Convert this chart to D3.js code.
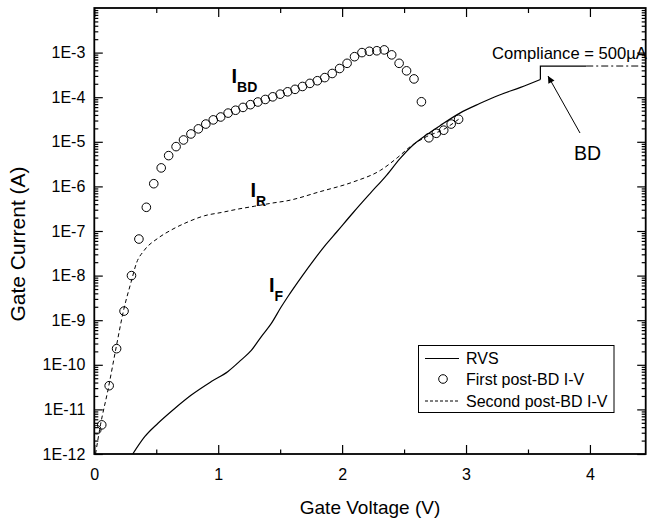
<!DOCTYPE html>
<html>
<head>
<meta charset="utf-8">
<script src="https://cdn.jsdelivr.net/npm/d3@7/dist/d3.min.js"></script>
<style>
  html, body { margin: 0; padding: 0; background: #fff; }
  svg { display: block; font-family: "Liberation Sans", Arial, sans-serif; }
</style>
</head>
<body>
<svg id="chart" width="651" height="528"></svg>
<script>
// ---------------- data ----------------
// RVS (solid) : gate voltage (V) and gate current (A); last two points = jump to compliance
const rvsV = [0.31, 0.407, 0.514, 0.649, 0.783, 0.944, 1.079, 1.186, 1.267, 1.348, 1.429, 1.509, 1.563, 1.68, 1.77, 1.87, 1.956, 2.09, 2.225, 2.36, 2.467, 2.575, 2.683, 2.79, 2.95, 3.11, 3.27, 3.44, 3.60, 3.60, 3.97];
const rvsI = [1e-12, 2.45e-12, 4.9e-12, 1.05e-11, 2.1e-11, 4.2e-11, 7.1e-11, 1.29e-10, 2.1e-10, 4.3e-10, 8.5e-10, 2.0e-9, 3.4e-9, 1.0e-8, 2.2e-8, 5.0e-8, 9.5e-8, 2.6e-7, 6.9e-7, 1.8e-6, 4.2e-6, 8.6e-6, 1.45e-5, 2.3e-5, 4.4e-5, 7.2e-5, 1.12e-4, 1.66e-4, 2.5e-4, 5e-4, 5e-4];
// compliance level continuation (dash-dot)
const complianceV = [3.97, 4.45];
const complianceI = [5e-4, 5e-4];
// First post-BD I-V (circles)
const firstV = [0.02, 0.06, 0.12, 0.18, 0.24, 0.30, 0.36, 0.42, 0.48, 0.54, 0.60, 0.66, 0.72, 0.78, 0.84, 0.90, 0.96, 1.02, 1.08, 1.14, 1.20, 1.26, 1.32, 1.38, 1.44, 1.50, 1.56, 1.62, 1.68, 1.74, 1.80, 1.86, 1.92, 1.98, 2.04, 2.10, 2.16, 2.22, 2.28, 2.34, 2.40, 2.46, 2.52, 2.58, 2.64, 2.70, 2.76, 2.82, 2.88, 2.94];
const firstI = [3.5e-12, 4.5e-12, 3.4e-11, 2.3e-10, 1.6e-9, 1.0e-8, 6.6e-8, 3.4e-7, 1.15e-6, 2.6e-6, 4.9e-6, 7.8e-6, 1.1e-5, 1.5e-5, 1.95e-5, 2.5e-5, 3.1e-5, 3.6e-5, 4.4e-5, 5.1e-5, 5.9e-5, 6.8e-5, 7.8e-5, 8.9e-5, 1.02e-4, 1.17e-4, 1.32e-4, 1.5e-4, 1.74e-4, 2.04e-4, 2.34e-4, 2.75e-4, 3.4e-4, 4.4e-4, 5.75e-4, 8.1e-4, 1.0e-3, 1.07e-3, 1.1e-3, 1.15e-3, 8.9e-4, 5.75e-4, 3.9e-4, 2.57e-4, 7.9e-5, 1.23e-5, 1.55e-5, 1.82e-5, 2.5e-5, 3.2e-5];
// Second post-BD I-V (dashed)
const secondV = [0.01, 0.05, 0.11, 0.178, 0.237, 0.299, 0.34, 0.40, 0.514, 0.62, 0.756, 0.89, 1.025, 1.16, 1.295, 1.43, 1.563, 1.82, 2.09, 2.31, 2.45, 2.55, 2.68, 2.82, 2.94];
const secondI = [1e-12, 4.5e-12, 2.7e-11, 2.6e-10, 1.7e-9, 7.5e-9, 1.9e-8, 3.6e-8, 6.9e-8, 1.05e-7, 1.6e-7, 2.2e-7, 2.6e-7, 3.1e-7, 3.6e-7, 4.2e-7, 4.8e-7, 7.6e-7, 1.26e-6, 2.3e-6, 4.5e-6, 7.8e-6, 1.3e-5, 1.9e-5, 3.2e-5];

const xTicks = [0, 1, 2, 3, 4];
const xMinorTicks = [0.5, 1.5, 2.5, 3.5];
const yTickValues = [1e-12, 1e-11, 1e-10, 1e-9, 1e-8, 1e-7, 1e-6, 1e-5, 1e-4, 1e-3];
const yTickLabels = ["1E-12", "1E-11", "1E-10", "1E-9", "1E-8", "1E-7", "1E-6", "1E-5", "1E-4", "1E-3"];
const legendLabels = ["RVS", "First post-BD I-V", "Second post-BD I-V"];

// ---------------- layout ----------------
const L = 94.3, R = 645.7, T = 8, B = 454;
const svg = d3.select("#chart");
const x = d3.scaleLinear().domain([0, 4.45]).range([L, R]);
const y = d3.scaleLog().domain([1e-12, 1e-2]).range([B, T]);

svg.append("defs").append("clipPath").attr("id", "clip")
  .append("rect").attr("x", L).attr("y", T).attr("width", R - L).attr("height", B - T);

const zip = (a, b) => a.map((v, i) => [v, b[i]]);
const line = d3.line().x(d => x(d[0])).y(d => y(d[1]));
const smooth = d3.line().x(d => x(d[0])).y(d => y(d[1])).curve(d3.curveMonotoneX);

const plot = svg.append("g").attr("clip-path", "url(#clip)");

// second post-BD (dashed)
plot.append("path").datum(zip(secondV, secondI))
  .attr("d", smooth).attr("fill", "none").attr("stroke", "#000")
  .attr("stroke-width", 1).attr("stroke-dasharray", "4,3");

// RVS solid: smooth ramp, then the vertical jump and compliance plateau
const rvs = zip(rvsV, rvsI);
const nRamp = rvs.length - 2;
plot.append("path").datum(rvs.slice(0, nRamp))
  .attr("d", smooth).attr("fill", "none").attr("stroke", "#000").attr("stroke-width", 1.2);
plot.append("path").datum(rvs.slice(nRamp - 1))
  .attr("d", line).attr("fill", "none").attr("stroke", "#000").attr("stroke-width", 1.2);

// compliance dash-dot
plot.append("path").datum(zip(complianceV, complianceI))
  .attr("d", line).attr("fill", "none").attr("stroke", "#000")
  .attr("stroke-width", 1).attr("stroke-dasharray", "7,3,2,3");

// circles
plot.selectAll("circle.first").data(zip(firstV, firstI)).enter()
  .append("circle").attr("class", "first")
  .attr("cx", d => x(d[0])).attr("cy", d => y(d[1])).attr("r", 4.3)
  .attr("fill", "none").attr("stroke", "#000").attr("stroke-width", 1);

// ---------------- axes ----------------
const axG = svg.append("g");
axG.append("g").attr("transform", `translate(0,${B})`)
  .call(d3.axisBottom(x).tickValues(xTicks).tickSize(-9).tickFormat(d3.format("d")).tickPadding(14.5))
  .call(g => g.select(".domain").remove());
axG.append("g").attr("transform", `translate(0,${B})`)
  .call(d3.axisBottom(x).tickValues(xMinorTicks).tickSize(-4.5).tickFormat(""))
  .call(g => g.select(".domain").remove());
axG.append("g").attr("transform", `translate(0,${T})`)
  .call(d3.axisTop(x).tickValues(xTicks).tickSize(-9).tickFormat(""))
  .call(g => g.select(".domain").remove());
axG.append("g").attr("transform", `translate(0,${T})`)
  .call(d3.axisTop(x).tickValues(xMinorTicks).tickSize(-5).tickFormat(""))
  .call(g => g.select(".domain").remove());
const yMinor = [];
for (let e = -12; e < -2; e++) for (let m = 2; m <= 9; m++) yMinor.push(+(m + "e" + e));
axG.append("g").attr("class", "yl").attr("transform", `translate(${L},0)`)
  .call(d3.axisLeft(y).tickValues(yTickValues).tickSize(-8.5)
    .tickFormat((d, i) => yTickLabels[i]).tickPadding(9))
  .call(g => g.select(".domain").remove());
axG.append("g").attr("transform", `translate(${L},0)`)
  .call(d3.axisLeft(y).tickValues(yMinor).tickSize(-4).tickFormat(""))
  .call(g => g.select(".domain").remove());
axG.append("g").attr("transform", `translate(${R},0)`)
  .call(d3.axisRight(y).tickValues(yTickValues).tickSize(-8.5).tickFormat(""))
  .call(g => g.select(".domain").remove());
axG.append("g").attr("transform", `translate(${R},0)`)
  .call(d3.axisRight(y).tickValues(yMinor).tickSize(-4).tickFormat(""))
  .call(g => g.select(".domain").remove());

axG.selectAll(".tick line").attr("stroke", "#000").attr("stroke-width", 1.2);
axG.selectAll(".tick text").attr("fill", "#000").attr("font-size", 16)
  .attr("font-family", "Liberation Sans, Arial, sans-serif");

svg.append("rect").attr("x", L).attr("y", T).attr("width", R - L).attr("height", B - T)
  .attr("fill", "none").attr("stroke", "#000").attr("stroke-width", 1.8);

// axis titles
svg.append("text").attr("x", (L + R) / 2).attr("y", 514).attr("text-anchor", "middle")
  .attr("font-size", 19).text("Gate Voltage (V)");
svg.append("text").attr("transform", `translate(25,244) rotate(-90)`).attr("text-anchor", "middle")
  .attr("font-size", 21).text("Gate Current (A)");

// ---------------- annotations ----------------
function subLabel(px, py, main, sub) {
  const t = svg.append("text").attr("x", px).attr("y", py).attr("font-weight", "bold").attr("font-size", 20);
  t.append("tspan").text(main);
  t.append("tspan").attr("font-size", 14).attr("dy", 9).text(sub);
}
subLabel(231.5, 83, "I", "BD");
subLabel(250.5, 197, "I", "R");
subLabel(269, 292, "I", "F");

svg.append("text").attr("x", 492).attr("y", 59).attr("font-size", 16.6).text("Compliance = 500\u00B5A");
svg.append("text").attr("x", 587.5).attr("y", 160).attr("text-anchor", "middle").attr("font-size", 19.5).text("BD");

svg.append("defs").append("marker").attr("id", "arr").attr("viewBox", "0 0 10 10")
  .attr("refX", 10).attr("refY", 5).attr("markerWidth", 9).attr("markerHeight", 7)
  .attr("markerUnits", "userSpaceOnUse").attr("orient", "auto")
  .append("path").attr("d", "M0,0 L10,5 L0,10 z").attr("fill", "#000");
svg.append("line").attr("x1", 580).attr("y1", 133).attr("x2", 548).attr("y2", 76)
  .attr("stroke", "#000").attr("stroke-width", 1).attr("marker-end", "url(#arr)");

// ---------------- legend ----------------
const lg = svg.append("g");
lg.append("rect").attr("x", 418.5).attr("y", 345.5).attr("width", 195.5).attr("height", 67)
  .attr("fill", "#fff").attr("stroke", "#000").attr("stroke-width", 1);
const rows = [358.5, 379, 401];
lg.append("line").attr("x1", 425).attr("x2", 459).attr("y1", rows[0]).attr("y2", rows[0])
  .attr("stroke", "#000").attr("stroke-width", 1.2);
lg.append("circle").attr("cx", 443).attr("cy", rows[1]).attr("r", 4.3)
  .attr("fill", "none").attr("stroke", "#000");
lg.append("line").attr("x1", 425).attr("x2", 459).attr("y1", rows[2]).attr("y2", rows[2])
  .attr("stroke", "#000").attr("stroke-width", 1).attr("stroke-dasharray", "3,2");
legendLabels.forEach((s, i) => {
  lg.append("text").attr("x", 466).attr("y", rows[i] + 5.8).attr("font-size", 16).text(s);
});
</script>
</body>
</html>
